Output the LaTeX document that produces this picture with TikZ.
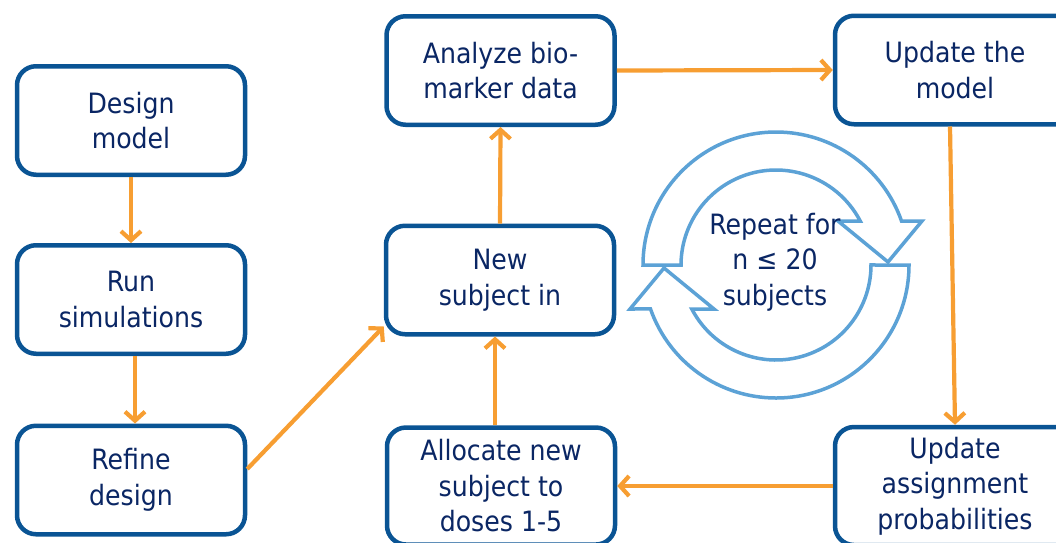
\documentclass[tikz,border=0pt]{standalone}
\usepackage{fontspec}
\setmainfont{DejaVu Sans Condensed}
\usetikzlibrary{arrows.meta,calc}

\definecolor{boxblue}{RGB}{10,84,148}
\definecolor{navytext}{RGB}{10,38,100}
\definecolor{flow}{RGB}{247,158,50}
\definecolor{cycleblue}{RGB}{92,162,214}

% one half of the two-arrow cycle symbol, centred at the origin (y up)
\newcommand\cyclehalf{%
  (-133,0) arc[start angle=180, end angle=19.3, radius=133]
  -- (146,44) -- (112,3) -- (62,44) -- (84.2,44)
  arc[start angle=27.6, end angle=180, radius=95] -- cycle}

\begin{document}
\begin{tikzpicture}[x=1pt, y=-1pt,
  stepbox/.style={draw=boxblue, line width=4.5pt, rounded corners=19pt,
    fill=white, text=navytext, align=center, inner sep=0pt,
    minimum width=228pt, minimum height=108.5pt,
    font=\fontsize{28}{35.5}\selectfont},
  flowarrow/.style={draw=flow, line width=4.2pt,
    -{Straight Barb[length=9pt,width=20pt]}},
  cyclearrow/.style={draw=cycleblue, line width=3.5pt, fill=white, line join=miter}]

\useasboundingbox (0,0) rectangle (1056,542);
\clip (0,0) rectangle (1056,542);

% left column: preparation
\node[stepbox] (design)   at (131,120.5) {Design\\model};
\node[stepbox] (run)      at (131,299.5) {Run\\simulations};
\node[stepbox] (refine)   at (131,480)   {Refine\\design};

% middle column
\node[stepbox] (analyze)  at (500.5,70.5) {Analyze bio-\\marker data};
\node[stepbox] (newsubj)  at (500,280)    {New\\subject in};
\node[stepbox, minimum height=117pt] (allocate) at (501,486) {Allocate new\\subject to\\doses 1-5};

% right column
\node[stepbox, minimum width=240pt] (update)  at (955,70)  {Update the\\model};
\node[stepbox, minimum width=240pt, minimum height=118pt] (assign) at (955,486) {Update\\assignment\\probabilities};

% connectors
\draw[flowarrow] (design.south) -- (run.north);
\draw[flowarrow] ([xshift=4pt]run.south) -- ([xshift=4pt]refine.north);
\draw[flowarrow] ([yshift=11pt]refine.east) -- ([yshift=10pt]newsubj.south west);
\draw[flowarrow] (newsubj.north) -- (analyze.south);
\draw[flowarrow] ([xshift=-6pt]allocate.north) -- ([xshift=-5pt]newsubj.south);
\draw[flowarrow] (analyze.east) -- (update.west);
\draw[flowarrow] ([xshift=-5pt]update.south) -- (assign.north);
\draw[flowarrow] (assign.west) -- (allocate.east);

% repeat cycle symbol
\begin{scope}[shift={(776,265)}, y=1pt]
  \draw[cyclearrow] \cyclehalf;
  \draw[cyclearrow, rotate=180] \cyclehalf;
\end{scope}
\node[text=navytext, align=center, font=\fontsize{28}{35.5}\selectfont]
  (repeat) at (775,262) {Repeat for\\n ≤ 20\\subjects};

\end{tikzpicture}
\end{document}
